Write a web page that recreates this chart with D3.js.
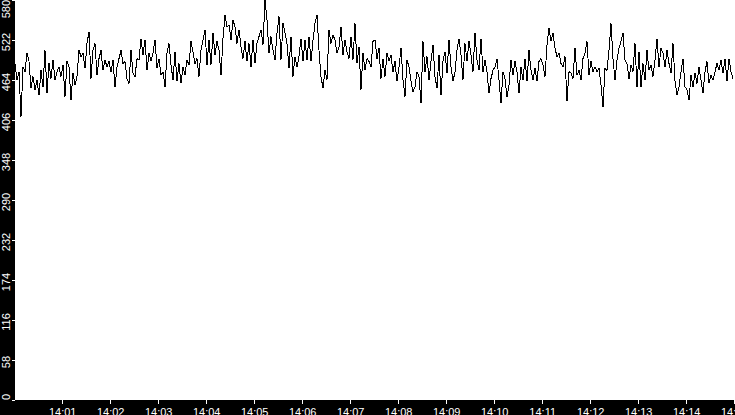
<!DOCTYPE html>
<html>
<head>
<meta charset="utf-8">
<script src="https://cdn.jsdelivr.net/npm/d3@7"></script>
<style>
  html, body { margin: 0; padding: 0; background: #000; overflow: hidden; }
  svg { display: block; }
  text { font-family: "Liberation Sans", Arial, sans-serif; font-size: 11px; fill: #fff; }
</style>
</head>
<body>
<svg id="chart" width="735" height="415"></svg>
<script>
// ---- data ----
const startTime = "14:00:01";      // time of first sample
const sampleSeconds = 2.5;         // sample spacing
const endTime = "14:15:01";        // end of the visible window

const values1400 = [488,464,476,411,483,476,503,491,452,469,450,464,442,478,454,507,445,488,466,493,464,476,483,469,486,440,491,483,435,474,457,469,507,498,503,481,517,534,466,507,517,471,495,507,478,493,483,491,476,493,454,483,495,507,488,491,466,459,507,474];
const values1402 = [469,495,493,524,500,522,478,503,491,503,522,481,495,471,476,454,503,517,486,464,505,462,488,459,483,471,493,486,520,505,488,495,469,507,522,537,486,522,486,532,500,520,507,471,524,558,541,544,522,551,541,517,537,512,495,520,491,517,483,522];
const values1405 = [488,517,527,537,515,580,551,503,527,507,493,532,556,493,546,532,517,481,527,469,498,483,498,524,491,522,493,527,491,522,546,558,507,469,452,478,464,537,517,529,522,503,512,541,500,522,505,495,527,493,546,488,512,450,503,478,495,491,483,520];
const values1407 = [522,495,510,466,495,469,503,491,500,476,491,462,483,510,464,440,493,483,462,447,454,476,469,430,520,476,498,464,491,515,469,452,500,442,491,505,474,522,483,462,476,507,524,500,464,517,491,520,500,476,532,493,478,524,476,493,476,445,466,478];
const values1410 = [483,495,464,430,476,466,440,457,493,471,491,476,445,483,464,495,462,507,478,464,481,462,491,495,486,469,515,539,520,532,510,498,503,488,483,498,433,476,474,466,510,471,478,464,495,503,520,471,491,476,483,476,481,457,425,481,478,507,546,495];
const values1412 = [464,493,510,520,532,493,488,466,486,476,517,454,505,454,488,464,507,478,486,469,493,524,483,510,503,483,507,488,474,517,462,442,454,476,495,454,450,435,471,454,474,459,483,464,445,476,491,459,471,464,476,488,478,493,474,495,462,495,476,466];

const yTickValues = [0,58,116,174,232,290,348,406,464,522,580];
const xTickLabels = ["14:01","14:02","14:03","14:04","14:05","14:06","14:07","14:08","14:09","14:10","14:11","14:12","14:13","14:14","14:15"];

(function () {
  const day = "2024-01-01T";
  const parseT = s => new Date(day + s);
  const t0 = parseT(startTime);
  const t1 = parseT(endTime);
  const values = [].concat(values1400, values1402, values1405, values1407, values1410, values1412);
  const data = values.map((v, i) => ({ t: new Date(t0.getTime() + i * sampleSeconds * 1000), v }));

  const W = 735, H = 415;
  const pL = 15, pR = 735, pT = 0, pB = 400;

  const svg = d3.select("#chart");
  svg.append("rect").attr("width", W).attr("height", H).attr("fill", "#000");
  svg.append("rect").attr("x", pL).attr("y", pT).attr("width", pR - pL).attr("height", pB - pT).attr("fill", "#fff");

  const x = d3.scaleTime().domain([t0, t1]).range([pL, pR]);
  const y = d3.scaleLinear().domain([0, 580]).range([pB, pT]);

  svg.append("clipPath").attr("id", "clip")
    .append("rect").attr("x", pL).attr("y", pT).attr("width", pR - pL).attr("height", pB - pT + 1);

  const line = d3.line().x(d => x(d.t)).y(d => y(d.v));
  svg.append("path")
    .datum(data)
    .attr("clip-path", "url(#clip)")
    .attr("fill", "none")
    .attr("stroke", "#000")
    .attr("stroke-width", 1)
    .attr("shape-rendering", "crispEdges")
    .attr("d", line);

  // x axis
  const xTicks = xTickLabels.map(s => parseT(s + ":00"));
  const xAxis = d3.axisBottom(x).tickValues(xTicks).tickFormat(d3.timeFormat("%H:%M")).tickSize(4).tickPadding(4);
  const gx = svg.append("g").attr("transform", `translate(0,${pB})`).call(xAxis);
  gx.select(".domain").remove();
  gx.selectAll(".tick line").attr("stroke", "#fff").attr("shape-rendering", "crispEdges");
  gx.selectAll(".tick text")
    .attr("fill", "#fff")
    .attr("font-family", "Liberation Sans, Arial, sans-serif")
    .attr("font-size", 11)
    .attr("y", 15.5).attr("dy", 0);

  // y axis
  const yAxis = d3.axisLeft(y).tickValues(yTickValues).tickSize(3).tickFormat(d3.format("d"));
  const gy = svg.append("g").attr("transform", `translate(${pL},0)`).call(yAxis);
  gy.select(".domain").remove();
  gy.selectAll(".tick line").attr("stroke", "#fff").attr("shape-rendering", "crispEdges");
  gy.selectAll(".tick text").remove();

  const approxW = s => s.length * 6.1;
  svg.append("g").selectAll("text")
    .data(yTickValues)
    .join("text")
    .attr("font-family", "Liberation Sans, Arial, sans-serif")
    .attr("font-size", 11)
    .attr("fill", "#fff")
    .attr("text-anchor", "middle")
    .attr("transform", d => {
      const w = approxW(String(d));
      let c = y(d) + 2;
      c = Math.max(w / 2, Math.min(pB - w / 2, c));
      return `translate(9.8,${c}) rotate(-90)`;
    })
    .text(d => d);
})();
</script>
</body>
</html>
